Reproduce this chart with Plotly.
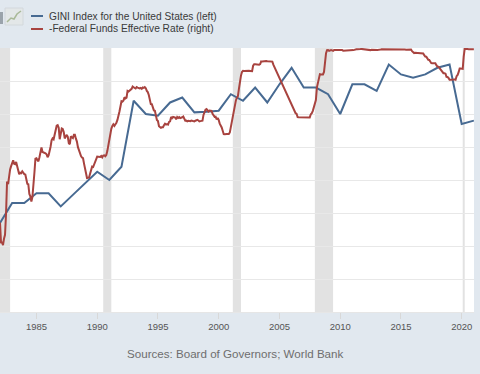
import pandas as pd
import plotly.graph_objects as go

# ---------------- data ----------------
gini_years = list(range(1982, 2022))
gini_values = [36.7, 37.3, 37.3, 37.6, 37.6, 37.2, 37.55, 37.9, 38.25, 38.0,
               38.4, 40.4, 40.0, 39.95, 40.35, 40.5, 40.05, 40.07, 40.1, 40.6,
               40.4, 40.8, 40.35, 40.9, 41.4, 40.8, 40.8, 40.6, 40.0, 40.9,
               40.9, 40.7, 41.5, 41.2, 41.1, 41.2, 41.4, 41.5, 39.7, 39.8]

fedfunds_start = "1982-01-01"
fedfunds_rate = [
    13.22, 14.78, 14.68, 14.94, 14.45, 14.15, 12.59, 10.12, 10.31, 9.71, 9.20, 8.95,
    8.68, 8.51, 8.77, 8.80, 8.63, 8.98, 9.37, 9.56, 9.45, 9.48, 9.34, 9.47,
    9.56, 9.59, 9.91, 10.29, 10.32, 11.06, 11.23, 11.64, 11.30, 9.99, 9.43, 8.38,
    8.35, 8.50, 8.58, 8.27, 7.97, 7.53, 7.88, 7.90, 7.92, 7.99, 8.05, 8.27,
    8.14, 7.86, 7.48, 6.99, 6.85, 6.92, 6.56, 6.17, 5.89, 5.85, 6.04, 6.91,
    6.43, 6.10, 6.13, 6.37, 6.85, 6.73, 6.58, 6.73, 7.22, 7.29, 6.69, 6.77,
    6.83, 6.58, 6.58, 6.87, 7.09, 7.51, 7.75, 8.01, 8.19, 8.30, 8.35, 8.76,
    9.12, 9.36, 9.85, 9.84, 9.81, 9.53, 9.24, 8.99, 9.02, 8.84, 8.55, 8.45,
    8.23, 8.24, 8.28, 8.26, 8.18, 8.29, 8.15, 8.13, 8.20, 8.11, 7.81, 7.31,
    6.91, 6.25, 6.12, 5.91, 5.78, 5.90, 5.82, 5.66, 5.45, 5.21, 4.81, 4.43,
    4.03, 4.06, 3.98, 3.73, 3.82, 3.76, 3.25, 3.30, 3.22, 3.10, 3.09, 2.92,
    3.02, 3.03, 3.07, 2.96, 3.00, 3.04, 3.06, 3.03, 3.09, 2.99, 3.02, 2.96,
    3.05, 3.25, 3.34, 3.56, 4.01, 4.25, 4.26, 4.47, 4.73, 4.76, 5.29, 5.45,
    5.53, 5.92, 5.98, 6.05, 6.01, 6.00, 5.85, 5.74, 5.80, 5.76, 5.80, 5.60,
    5.56, 5.22, 5.31, 5.22, 5.24, 5.27, 5.40, 5.22, 5.30, 5.24, 5.31, 5.29,
    5.25, 5.19, 5.39, 5.51, 5.50, 5.56, 5.52, 5.54, 5.54, 5.50, 5.52, 5.50,
    5.56, 5.51, 5.49, 5.45, 5.49, 5.56, 5.54, 5.55, 5.51, 5.07, 4.83, 4.68,
    4.63, 4.76, 4.81, 4.74, 4.74, 4.76, 4.99, 5.07, 5.22, 5.20, 5.42, 5.30,
    5.45, 5.73, 5.85, 6.02, 6.27, 6.53, 6.54, 6.50, 6.52, 6.51, 6.51, 6.40,
    5.98, 5.49, 5.31, 4.80, 4.21, 3.97, 3.77, 3.65, 3.07, 2.49, 2.09, 1.82,
    1.73, 1.74, 1.73, 1.75, 1.75, 1.75, 1.73, 1.74, 1.75, 1.75, 1.34, 1.24,
    1.24, 1.26, 1.25, 1.26, 1.26, 1.22, 1.01, 1.03, 1.01, 1.01, 1.00, 0.98,
    1.00, 1.01, 1.00, 1.00, 1.00, 1.03, 1.26, 1.43, 1.61, 1.76, 1.93, 2.16,
    2.28, 2.50, 2.63, 2.79, 3.00, 3.04, 3.26, 3.50, 3.62, 3.78, 4.00, 4.16,
    4.29, 4.49, 4.59, 4.79, 4.94, 4.99, 5.24, 5.25, 5.25, 5.25, 5.25, 5.24,
    5.25, 5.26, 5.26, 5.25, 5.25, 5.25, 5.26, 5.02, 4.94, 4.76, 4.49, 4.24,
    3.94, 2.98, 2.61, 2.28, 1.98, 2.00, 2.01, 2.00, 1.81, 0.97, 0.39, 0.16,
    0.15, 0.22, 0.18, 0.15, 0.18, 0.21, 0.16, 0.16, 0.15, 0.12, 0.12, 0.12,
    0.11, 0.13, 0.16, 0.20, 0.20, 0.18, 0.18, 0.19, 0.19, 0.19, 0.19, 0.18,
    0.17, 0.16, 0.14, 0.10, 0.09, 0.09, 0.07, 0.10, 0.08, 0.07, 0.08, 0.07,
    0.08, 0.10, 0.13, 0.14, 0.16, 0.16, 0.16, 0.13, 0.14, 0.16, 0.16, 0.16,
    0.14, 0.15, 0.14, 0.15, 0.11, 0.09, 0.09, 0.08, 0.08, 0.09, 0.08, 0.09,
    0.07, 0.07, 0.08, 0.09, 0.09, 0.10, 0.09, 0.09, 0.09, 0.09, 0.09, 0.12,
    0.11, 0.11, 0.11, 0.12, 0.12, 0.13, 0.13, 0.14, 0.14, 0.12, 0.12, 0.24,
    0.34, 0.38, 0.36, 0.37, 0.37, 0.38, 0.39, 0.40, 0.40, 0.40, 0.41, 0.54,
    0.65, 0.66, 0.79, 0.90, 0.91, 1.04, 1.15, 1.16, 1.15, 1.15, 1.16, 1.30,
    1.41, 1.42, 1.51, 1.69, 1.70, 1.82, 1.91, 1.91, 1.95, 2.19, 2.20, 2.27,
    2.40, 2.40, 2.41, 2.42, 2.39, 2.38, 2.40, 2.13, 2.04, 1.83, 1.55, 1.55,
    1.55, 1.58, 0.65, 0.05, 0.05, 0.08, 0.09, 0.10, 0.09, 0.09, 0.09, 0.09,
    0.09,
]

recession_start = ["1981-07-01", "1990-07-01", "2001-03-01", "2007-12-01", "2020-02-01"]
recession_end = ["1982-11-01", "1991-03-01", "2001-11-01", "2009-06-01", "2020-04-01"]

tick_years = [1985, 1990, 1995, 2000, 2005, 2010, 2015, 2020]

series_names = ["GINI Index for the United States (left)",
                "-Federal Funds Effective Rate (right)"]
source_text = "Sources: Board of Governors; World Bank"

# ---------------- figure ----------------
W, H = 480, 374
ML, MR, MT, MB = 0, 6, 48, 62
PW, PH = W - ML - MR, H - MT - MB

def px(x):
    return (x - ML) / PW

def py(y):
    return (H - MB - y) / PH

BLUE = "#476a92"
RED = "#a8433f"
FONT = "Liberation Sans, Arial"

gini_dates = [f"{y}-01-01" for y in gini_years]
ff_dates = pd.date_range(fedfunds_start, periods=len(fedfunds_rate), freq="MS")
neg_ff = [-v for v in fedfunds_rate]

fig = go.Figure()
fig.add_trace(go.Scatter(x=gini_dates, y=gini_values, mode="lines",
                         line=dict(color=BLUE, width=2), name=series_names[0],
                         yaxis="y"))
fig.add_trace(go.Scatter(x=ff_dates, y=neg_ff, mode="lines",
                         line=dict(color=RED, width=2), name=series_names[1],
                         yaxis="y2"))

shapes = []
for s, e in zip(recession_start, recession_end):
    shapes.append(dict(type="rect", xref="x", yref="paper", x0=s, x1=e, y0=0, y1=1,
                       fillcolor="#e2e2e2", line=dict(width=0), layer="below"))

# legend line samples
for i, col in enumerate([BLUE, RED]):
    yy = 16 + 13 * i
    shapes.append(dict(type="line", xref="paper", yref="paper",
                       x0=px(31), x1=px(43), y0=py(yy), y1=py(yy),
                       line=dict(color=col, width=2)))

# small chart icon
shapes.append(dict(type="rect", xref="paper", yref="paper",
                   x0=px(-2), x1=px(3), y0=py(24), y1=py(12),
                   fillcolor="#9aa3ab", line=dict(width=0)))
shapes.append(dict(type="rect", xref="paper", yref="paper",
                   x0=px(5), x1=px(23), y0=py(25), y1=py(8),
                   fillcolor="#e3e7e8", line=dict(color="#d3d8dc", width=1)))
shapes.append(dict(type="path", xref="paper", yref="paper",
                   path=(f"M {px(7)},{py(22)} L {px(11)},{py(18)} L {px(14)},{py(19)} "
                         f"L {px(17)},{py(14)} L {px(21)},{py(11)}"),
                   line=dict(color="#a9b998", width=1.5)))

annotations = []
for i, name in enumerate(series_names):
    annotations.append(dict(text=name, xref="paper", yref="paper",
                            x=px(47), y=py(16 + 13 * i), xanchor="left", yanchor="middle",
                            showarrow=False,
                            font=dict(family=FONT, size=10.2, color="#3a3a3a")))
annotations.append(dict(text=source_text, xref="paper", yref="paper",
                        x=px(235), y=py(353), xanchor="center", yanchor="middle",
                        showarrow=False,
                        font=dict(family=FONT, size=11.6, color="#6e6e6e")))

fig.update_layout(
    width=W, height=H, autosize=False,
    margin=dict(l=ML, r=MR, t=MT, b=MB, pad=0),
    paper_bgcolor="#e1e8ef", plot_bgcolor="#ffffff",
    showlegend=False,
    shapes=shapes, annotations=annotations,
    xaxis=dict(type="date", range=["1982-01-01", "2021-01-05"],
               tickvals=[f"{y}-01-01" for y in tick_years],
               ticktext=[str(y) for y in tick_years],
               ticks="outside", ticklen=6, tickcolor="#d8d8d8", tickwidth=1,
               showgrid=False, showline=True, linecolor="#e6e6e6", linewidth=1,
               zeroline=False,
               tickfont=dict(family=FONT, size=9.5, color="#555555")),
    yaxis=dict(range=[34, 42], tickvals=[35, 36, 37, 38, 39, 40, 41],
               showticklabels=False, showgrid=True, gridcolor="#e8e8e8", gridwidth=1,
               zeroline=False, showline=False, ticks=""),
    yaxis2=dict(range=[-20, 0], overlaying="y", side="right",
                showticklabels=False, showgrid=False, zeroline=False,
                showline=False, ticks=""),
)

fig.write_html(
    "out.html",
    config={"displayModeBar": False},
    post_script="document.body.style.margin='0';document.body.style.overflow='hidden';",
)
